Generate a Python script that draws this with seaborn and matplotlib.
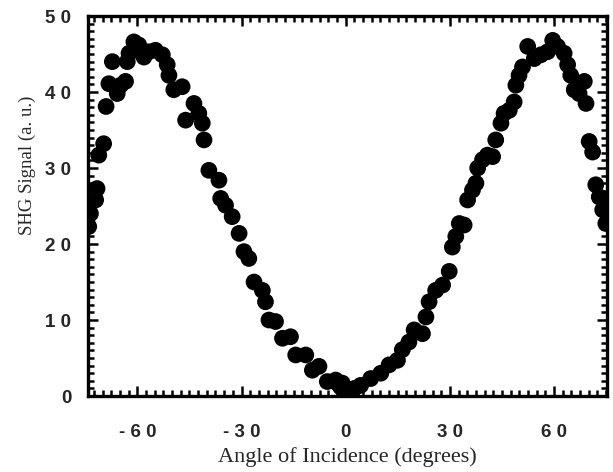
import numpy as np
import pandas as pd
import matplotlib
matplotlib.use('Agg')
import matplotlib.pyplot as plt
import seaborn as sns
from matplotlib.ticker import MultipleLocator, FixedLocator, FixedFormatter

# ---------------------------------------------------------------
# data (angle in degrees, SHG signal in a.u.)
# ---------------------------------------------------------------
angle_neg = [-74.0, -73.5, -72.0, -71.6, -71.1, -69.7, -69.0, -68.2, -67.2,
             -65.8, -64.8, -63.4, -62.9, -62.4, -61.0, -59.6, -58.1, -56.7,
             -54.8, -52.8, -51.4, -50.9, -49.5, -47.1, -46.1, -43.7, -42.3,
             -41.3, -40.8, -39.4, -36.5, -36.0, -34.6, -32.7, -30.7, -29.3,
             -27.9, -26.4, -24.0, -23.1, -22.1, -20.2, -18.2, -15.9, -14.4,
             -11.5, -9.6, -7.7, -5.3, -2.9, -1.0, -2.4, -1.5]
signal_neg = [22.3, 24.0, 25.8, 27.3, 31.7, 33.2, 38.1, 41.1, 44.0,
              39.8, 40.9, 41.4, 44.0, 45.1, 46.6, 46.2, 44.6, 45.3,
              45.5, 44.9, 43.6, 42.2, 40.3, 40.7, 36.3, 38.5, 37.2,
              35.9, 33.7, 29.7, 28.4, 26.0, 25.1, 23.6, 21.4, 19.0,
              18.1, 15.0, 13.9, 12.4, 10.0, 9.8, 7.6, 7.8, 5.4,
              5.4, 3.4, 3.9, 1.9, 2.1, 1.7, 1.7, 1.2]

angle_pos = [0.3, 1.4, 2.5, 4.3, 7.2, 10.1, 12.5, 14.9, 16.3, 18.2, 19.7,
             22.1, 23.1, 24.0, 25.9, 27.9, 29.8, 30.7, 31.7, 32.7, 34.1,
             35.1, 36.5, 37.5, 38.0, 39.4, 40.8, 42.3, 43.2, 44.7, 45.6,
             47.1, 48.5, 49.0, 49.9, 50.9, 52.4, 54.3, 56.2, 58.1, 59.6,
             61.0, 62.9, 63.9, 64.8, 65.8, 67.2, 68.7, 69.2, 70.1, 71.1,
             72.0, 73.0, 74.0, 74.9]
signal_pos = [0.2, 0.8, 1.0, 1.4, 2.3, 3.0, 4.1, 4.7, 6.1, 7.1, 8.7,
              8.2, 10.4, 12.4, 13.9, 14.6, 16.4, 19.6, 21.0, 22.7, 22.5,
              25.8, 27.1, 28.0, 30.0, 31.1, 31.7, 31.5, 33.7, 35.9, 37.2,
              37.6, 38.7, 40.9, 42.2, 43.3, 46.0, 44.4, 44.9, 45.3, 46.8,
              46.0, 45.1, 43.6, 42.2, 40.3, 39.8, 41.4, 38.5, 33.5, 32.1,
              27.8, 26.2, 24.5, 22.7]

x_major = [-60, -30, 0, 30, 60]
x_labels = ['- 6 0', '- 3 0', '0', '3 0', '6 0']
y_major = [0, 10, 20, 30, 40, 50]
y_labels = ['0', '1 0', '2 0', '3 0', '4 0', '5 0']

df = pd.DataFrame({'angle': angle_neg + angle_pos,
                   'signal': signal_neg + signal_pos})

sns.set_style('ticks')
plt.rcParams['font.family'] = ['Liberation Sans', 'DejaVu Sans']

fig = plt.figure(figsize=(6.13, 4.72), dpi=100)
ax = fig.add_axes([0.1436, 0.161, 0.8464, 0.805])

sns.scatterplot(data=df, x='angle', y='signal', ax=ax,
                color='black', s=145, linewidth=0, edgecolor='none',
                legend=False)

ax.set_xlim(-74.2, 75.2)
ax.set_ylim(0, 50)

ax.xaxis.set_major_locator(FixedLocator(x_major))
ax.xaxis.set_major_formatter(FixedFormatter(x_labels))
ax.xaxis.set_minor_locator(MultipleLocator(2.5))
ax.yaxis.set_major_locator(FixedLocator(y_major))
ax.yaxis.set_major_formatter(FixedFormatter(y_labels))
ax.yaxis.set_minor_locator(MultipleLocator(1))

ax.tick_params(which='both', direction='in', top=True, right=True,
               color='black')
ax.tick_params(which='major', length=7, width=1.8)
ax.tick_params(which='minor', length=4, width=1.8)
ax.tick_params(axis='x', which='major', pad=20, labelsize=13.5)
ax.tick_params(axis='y', which='major', pad=12, labelsize=13.5)
for lab in ax.get_xticklabels() + ax.get_yticklabels():
    lab.set_fontweight('bold')

for spine in ax.spines.values():
    spine.set_linewidth(2.4)
    spine.set_color('black')

ax.set_xlabel('')
ax.set_ylabel('')
fig.text(0.566, 0.032, 'Angle of Incidence (degrees)', ha='center',
         va='center', fontsize=16, family=['Liberation Serif'])
fig.text(0.044, 0.650, 'SHG Signal (a. u.)', ha='center', va='center',
         rotation=90, fontsize=13.5, family=['Liberation Serif'])

fig.savefig('out.png', dpi=100)
